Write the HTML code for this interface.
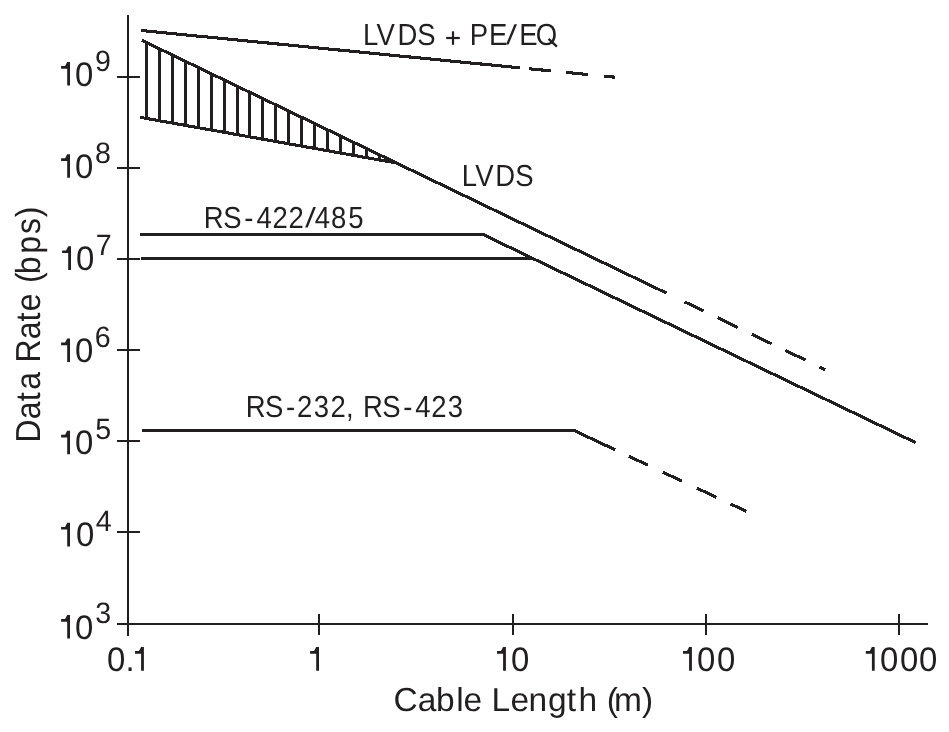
<!DOCTYPE html>
<html><head><meta charset="utf-8"><style>
html,body{margin:0;padding:0;background:#fff;width:949px;height:732px;overflow:hidden}
svg{display:block;will-change:transform}
text{font-family:"Liberation Sans",sans-serif;white-space:pre;text-rendering:geometricPrecision}
</style></head><body>
<svg width="949" height="732" viewBox="0 0 949 732">
<rect width="949" height="732" fill="#fff"/>
<g fill="#231f20" shape-rendering="crispEdges"><rect x="127" y="15" width="2" height="621"/><rect x="117" y="623" width="811" height="2"/><rect x="117" y="76" width="23" height="2"/><rect x="117" y="167" width="23" height="2"/><rect x="117" y="258" width="23" height="2"/><rect x="117" y="349" width="23" height="2"/><rect x="117" y="440" width="23" height="2"/><rect x="117" y="531" width="23" height="2"/><rect x="318" y="614" width="2" height="21"/><rect x="512" y="614" width="2" height="21"/><rect x="705" y="614" width="2" height="21"/><rect x="898" y="614" width="2" height="21"/><rect x="140" y="233" width="344" height="3"/><rect x="141" y="257" width="393" height="3"/><rect x="142" y="429" width="433" height="3"/><rect x="145" y="43" width="3" height="75"/><rect x="158" y="49" width="3" height="72"/><rect x="171" y="55" width="3" height="68"/><rect x="184" y="61" width="3" height="64"/><rect x="197" y="68" width="3" height="60"/><rect x="210" y="74" width="3" height="56"/><rect x="223" y="80" width="3" height="52"/><rect x="236" y="86" width="3" height="49"/><rect x="248" y="92" width="3" height="45"/><rect x="261" y="98" width="3" height="41"/><rect x="274" y="105" width="3" height="36"/><rect x="287" y="111" width="3" height="33"/><rect x="300" y="117" width="3" height="29"/><rect x="313" y="123" width="3" height="25"/><rect x="326" y="130" width="3" height="21"/><rect x="339" y="136" width="3" height="17"/><rect x="352" y="142" width="3" height="13"/><rect x="365" y="149" width="3" height="9"/><rect x="378" y="155" width="3" height="5"/></g>
<g stroke="#231f20" stroke-width="3.10" fill="none" stroke-linecap="butt" shape-rendering="crispEdges"><line x1="141.00" y1="30.50" x2="519.90" y2="67.83"/><line x1="529.00" y1="68.73" x2="550.70" y2="70.86"/><line x1="566.20" y1="72.39" x2="587.70" y2="74.51"/><line x1="604.10" y1="76.13" x2="614.80" y2="77.18"/><line x1="142.00" y1="40.40" x2="396.50" y2="163.00"/><line x1="140.00" y1="117.30" x2="396.50" y2="163.00"/><line x1="396.50" y1="163.00" x2="666.40" y2="293.07"/><line x1="684.40" y1="301.75" x2="703.40" y2="310.90"/><line x1="717.80" y1="317.84" x2="737.80" y2="327.48"/><line x1="751.70" y1="334.18" x2="771.80" y2="343.87"/><line x1="785.30" y1="350.37" x2="805.40" y2="360.06"/><line x1="819.40" y1="366.81" x2="825.40" y2="369.70"/><line x1="483.00" y1="234.5" x2="915.8" y2="442.7"/><line x1="574.00" y1="430.50" x2="615.30" y2="449.87"/><line x1="628.80" y1="456.20" x2="647.80" y2="465.11"/><line x1="662.90" y1="472.19" x2="682.10" y2="481.19"/><line x1="696.90" y1="488.13" x2="716.20" y2="497.18"/><line x1="730.50" y1="503.89" x2="746.30" y2="511.30"/></g>
<g fill="#231f20" font-family="Liberation Sans, sans-serif"><text transform="translate(0 85.60) scale(1 1.035)" x="75.01" y="0" font-size="32.90">0</text><text transform="translate(0 70.90) scale(1 1.030)" x="94.96" y="0" font-size="28.60">9</text><text transform="translate(0 177.77) scale(1 1.035)" x="75.01" y="0" font-size="32.90">0</text><text transform="translate(0 162.93) scale(1 1.030)" x="95.06" y="0" font-size="28.60">8</text><text transform="translate(0 269.94) scale(1 1.035)" x="76.01" y="0" font-size="32.90">0</text><text transform="translate(0 254.96) scale(1 1.030)" x="95.83" y="0" font-size="28.60">7</text><text transform="translate(0 362.11) scale(1 1.035)" x="75.01" y="0" font-size="32.90">0</text><text transform="translate(0 346.99) scale(1 1.030)" x="94.85" y="0" font-size="28.60">6</text><text transform="translate(0 454.28) scale(1 1.035)" x="75.01" y="0" font-size="32.90">0</text><text transform="translate(0 439.02) scale(1 1.030)" x="95.15" y="0" font-size="28.60">5</text><text transform="translate(0 546.45) scale(1 1.035)" x="76.01" y="0" font-size="32.90">0</text><text transform="translate(0 531.05) scale(1 1.030)" x="95.64" y="0" font-size="28.60">4</text><text transform="translate(0 638.62) scale(1 1.035)" x="75.01" y="0" font-size="32.90">0</text><text transform="translate(0 623.08) scale(1 1.030)" x="95.21" y="0" font-size="28.60">3</text><text transform="translate(0 670.70) scale(1 1.035)" x="106.91 125.50" y="0" font-size="32.90">0.</text><text transform="translate(0 670.70) scale(1 1.035)" x="511.01" y="0" font-size="32.90">0</text><text transform="translate(0 670.70) scale(1 1.035)" x="697.01 716.91" y="0" font-size="32.90">00</text><text transform="translate(0 670.70) scale(1 1.035)" x="880.11 900.01 919.01" y="0" font-size="32.90">000</text><text transform="translate(0 44.50) scale(1 1.105)" x="362.89 376.58 397.44 417.25 469.84 488.94 519.14 535.70" y="0" font-size="27.50">LVDSPEEO</text><text transform="translate(0 185.60) scale(1 1.105)" x="461.74 475.28 495.24 515.25" y="0" font-size="27.50">LVDS</text><text transform="translate(0 227.60) scale(1 1.105)" x="203.74 223.25 244.18 256.57 272.42 288.42 314.77 331.10 348.30" y="0" font-size="27.50">RS-422485</text><text transform="translate(0 417.40) scale(1 1.105)" x="245.84 264.95 285.88 297.12 313.85 330.62 345.93 355.30 362.94 382.15 403.18 415.17 431.32 447.85" y="0" font-size="27.50">RS-232, RS-423</text><text transform="translate(0 710.70) scale(1 0.990)" x="393.60 417.78 435.94 456.24 463.58 484.30 491.45 510.48 528.58 547.99 566.79 578.38 600.30 606.72 613.98 641.90" y="0" font-size="33.50">Cable Length (m)</text><g transform="translate(39.9 440.4) rotate(-90)"><text transform="translate(0 0.00) scale(1 1.085)" x="-2.02 21.24 39.22 50.54 72.30 77.88 101.14 119.02 129.24 150.30 157.42 166.24 186.74 206.51 223.21" y="0" font-size="32.00">Data Rate (bps)</text></g></g>
<g fill="#231f20"><path d="M61.10 66.05 L65.10 66.05 L67.20 62.00 L70.00 62.00 L70.00 85.60 L67.20 85.60 L67.20 68.75 L61.10 68.75 Z"/><path d="M61.10 158.22 L65.10 158.22 L67.20 154.17 L70.00 154.17 L70.00 177.77 L67.20 177.77 L67.20 160.92 L61.10 160.92 Z"/><path d="M62.10 250.39 L66.10 250.39 L68.20 246.34 L71.00 246.34 L71.00 269.94 L68.20 269.94 L68.20 253.09 L62.10 253.09 Z"/><path d="M61.10 342.56 L65.10 342.56 L67.20 338.51 L70.00 338.51 L70.00 362.11 L67.20 362.11 L67.20 345.26 L61.10 345.26 Z"/><path d="M61.10 434.73 L65.10 434.73 L67.20 430.68 L70.00 430.68 L70.00 454.28 L67.20 454.28 L67.20 437.43 L61.10 437.43 Z"/><path d="M61.10 526.90 L65.10 526.90 L67.20 522.85 L70.00 522.85 L70.00 546.45 L67.20 546.45 L67.20 529.60 L61.10 529.60 Z"/><path d="M61.10 619.07 L65.10 619.07 L67.20 615.02 L70.00 615.02 L70.00 638.62 L67.20 638.62 L67.20 621.77 L61.10 621.77 Z"/><path d="M135.00 650.95 L139.00 650.95 L141.10 646.90 L143.90 646.90 L143.90 670.70 L141.10 670.70 L141.10 653.65 L135.00 653.65 Z"/><path d="M310.10 650.95 L314.10 650.95 L316.20 646.90 L319.00 646.90 L319.00 670.70 L316.20 670.70 L316.20 653.65 L310.10 653.65 Z"/><path d="M497.00 650.95 L501.00 650.95 L503.10 646.90 L505.90 646.90 L505.90 670.70 L503.10 670.70 L503.10 653.65 L497.00 653.65 Z"/><path d="M683.00 650.95 L687.00 650.95 L689.10 646.90 L691.90 646.90 L691.90 670.70 L689.10 670.70 L689.10 653.65 L683.00 653.65 Z"/><path d="M865.80 650.95 L869.80 650.95 L871.90 646.90 L874.70 646.90 L874.70 670.70 L871.90 670.70 L871.90 653.65 L865.80 653.65 Z"/><path d="M506.00 44.60 L508.60 44.60 L517.00 24.20 L514.40 24.20 Z"/><rect x="446.2" y="36.9" width="13.6" height="2.2"/><rect x="451.9" y="31.3" width="2.2" height="13.5"/><line x1="548.6" y1="38.8" x2="556.9" y2="46.6" stroke="#231f20" stroke-width="2.4"/><path d="M305.10 227.60 L307.70 227.60 L315.90 206.90 L313.30 206.90 Z"/></g>
</svg>
</body></html>
